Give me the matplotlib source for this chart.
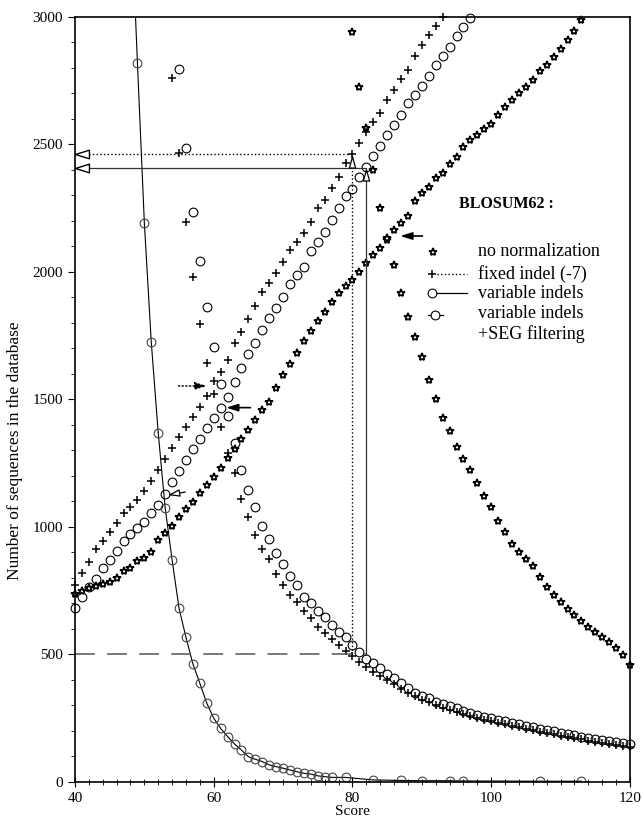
import numpy as np
import matplotlib
matplotlib.use('Agg')
import matplotlib.pyplot as plt

plt.rcParams['font.family'] = ['Liberation Serif', 'DejaVu Serif']

# no normalization (stars), rising and falling branch
star_up_x = np.arange(40, 114)
star_up = [736, 750, 759, 769, 776, 786, 799, 827, 838, 868,
           877, 903, 949, 975, 1005, 1040, 1070, 1099, 1132, 1165,
           1197, 1230, 1269, 1305, 1344, 1380, 1420, 1459, 1491, 1545,
           1595, 1640, 1684, 1731, 1770, 1809, 1844, 1884, 1916, 1945,
           1969, 2001, 2034, 2067, 2093, 2125, 2165, 2191, 2220, 2280,
           2311, 2332, 2367, 2387, 2424, 2452, 2491, 2518, 2537, 2559,
           2580, 2616, 2648, 2675, 2701, 2724, 2753, 2788, 2812, 2842,
           2873, 2910, 2946, 2988]
star_down_x = np.arange(80, 121)
star_down = [2942, 2727, 2563, 2400, 2250, 2135, 2027, 1919, 1822, 1744,
             1668, 1576, 1501, 1426, 1376, 1312, 1265, 1224, 1174, 1122,
             1077, 1025, 979, 933, 902, 875, 847, 805, 766, 735,
             705, 678, 655, 630, 609, 589, 570, 550, 524, 498,
             459]

# fixed indel (-7)
plus_up_x = np.arange(40, 94)
plus_up = [773, 821, 864, 912, 946, 982, 1017, 1054, 1080, 1106,
           1140, 1180, 1222, 1266, 1310, 1352, 1393, 1430, 1472, 1514,
           1573, 1609, 1655, 1720, 1766, 1815, 1867, 1923, 1958, 1997,
           2040, 2086, 2119, 2152, 2197, 2250, 2282, 2328, 2374, 2426,
           2463, 2505, 2547, 2589, 2622, 2675, 2714, 2755, 2792, 2847,
           2890, 2929, 2965, 3000]
plus_down_x = np.arange(54, 121)
plus_down = [2759, 2465, 2197, 1982, 1796, 1644,
             1520, 1393, 1290, 1210, 1108, 1038, 969, 912, 873, 816,
             773, 733, 707, 671, 642, 609, 585, 560, 537, 515,
             495, 470, 450, 432, 415, 398, 383, 366, 350, 336,
             323, 312, 302, 292, 283, 274, 266, 258, 251, 244,
             238, 232, 226, 220, 214, 208, 202, 197, 192, 187,
             182, 177, 172, 167, 162, 157, 153, 149, 145, 141,
             137]

# variable indels
circ_up_x = np.arange(40, 98)
circ_up = [681, 724, 763, 796, 838, 871, 907, 946, 971, 997,
           1021, 1056, 1086, 1130, 1175, 1220, 1262, 1305, 1345, 1387,
           1426, 1465, 1511, 1570, 1622, 1678, 1723, 1773, 1818, 1858,
           1903, 1953, 1988, 2018, 2084, 2119, 2158, 2205, 2250, 2298,
           2324, 2374, 2413, 2455, 2494, 2537, 2576, 2616, 2661, 2694,
           2729, 2769, 2812, 2847, 2884, 2925, 2962, 2995]
circ_down_x = np.arange(55, 121)
circ_down = [2797, 2487, 2237, 2044, 1864,
             1705, 1560, 1435, 1328, 1224, 1145, 1077, 1004, 951, 897,
             855, 808, 773, 727, 703, 672, 646, 616, 589, 567,
             537, 511, 481, 465, 446, 422, 407, 387, 367, 350,
             337, 328, 315, 306, 298, 289, 280, 272, 263, 256,
             250, 244, 238, 232, 226, 220, 214, 208, 203, 198,
             193, 188, 183, 178, 173, 168, 164, 160, 156, 152,
             148]

# variable indels + SEG filtering
seg_x = [48, 49, 50, 51, 52, 53, 54, 55, 56, 57, 58, 59, 60, 61, 62, 63, 64,
         65, 66, 67, 68, 69, 70, 71, 72, 73, 74, 75, 76, 77,
         79, 83, 87, 90, 94, 96, 107, 113]
seg_y = [3480, 2821, 2193, 1724, 1369, 1075, 871, 681, 567, 463, 387, 309, 250,
         210, 178, 149, 125, 99, 89, 80, 67, 60, 54, 47, 40, 34, 31, 24, 21, 18,
         18, 8, 6, 5, 5, 4, 3, 3]

# cut-off at 500 false positives and the matching score / true hits
cutoff = 500
x_fixed, hits_fixed = 80, 2461
x_var, hits_var = 82, 2409

fig = plt.figure(figsize=(6.43, 8.24), dpi=100)
ax = fig.add_axes([0.1166, 0.051, 0.8631, 0.9284])

star_kw = dict(ls='none', marker='*', ms=6, mfc='white', mec='black', mew=1.3, clip_on=False)
plus_kw = dict(ls='none', marker='+', ms=6, mec='black', mew=1.1, clip_on=False)
circ_kw = dict(ls='none', marker='o', ms=6.3, mfc='none', mec='black', mew=0.8, clip_on=False)

ax.plot(star_up_x, star_up, **star_kw)
ax.plot(star_down_x, star_down, **star_kw)
ax.plot(plus_up_x, plus_up, **plus_kw)
ax.plot(plus_down_x, plus_down, **plus_kw)
ax.plot(circ_up_x, circ_up, **circ_kw)
ax.plot(circ_down_x, circ_down, **circ_kw)
ax.plot(seg_x, seg_y, '-', color='black', lw=0.8)
ax.plot(seg_x, seg_y, ls='none', marker='o', ms=6.3, mfc='none', mec='#444444', mew=0.8)

# guide lines
ax.plot([40, x_var], [cutoff, cutoff], color='#555555', lw=1.1, dashes=(13, 8))
ax.plot([x_fixed, x_fixed, 40.8], [cutoff, hits_fixed, hits_fixed], color='black', ls=':', lw=1)
ax.plot([x_var, x_var, 40.8], [cutoff, hits_var, hits_var], color='#333333', ls='-', lw=0.9)
left_tri = [(-1.6, 0), (1.6, 1), (1.6, -1), (-1.6, 0)]
up_tri = [(0, 1.6), (-0.9, -1.6), (0.9, -1.6), (0, 1.6)]
for yy in (hits_fixed, hits_var):
    ax.plot(41.0, yy, marker=left_tri, ms=10, mfc='white', mec='black', mew=1, clip_on=False)
ax.plot(x_fixed, hits_fixed - 30, marker=up_tri, ms=8, mfc='white', mec='black', mew=0.9)
ax.plot(x_var, hits_var - 30, marker=up_tri, ms=8, mfc='white', mec='black', mew=0.9)

# arrows pointing at the crossing points
head = '-|>,head_length=0.7,head_width=0.22'
ax.annotate('', xy=(59.0, 1553), xytext=(54.9, 1553),
            arrowprops=dict(arrowstyle=head, color='black', lw=1, ls=':', shrinkA=0, shrinkB=0))
ax.annotate('', xy=(61.8, 1468), xytext=(65.3, 1468),
            arrowprops=dict(arrowstyle=head, color='black', lw=1.2, shrinkA=0, shrinkB=0))
ax.annotate('', xy=(86.9, 2141), xytext=(90.1, 2141),
            arrowprops=dict(arrowstyle=head, color='black', lw=1.2, shrinkA=0, shrinkB=0))
ax.annotate('', xy=(53.4, 1125), xytext=(55.9, 1137),
            arrowprops=dict(arrowstyle=head, fc='white', ec='black', lw=0.9, shrinkA=0, shrinkB=0))

ax.set_xlim(40, 120)
ax.set_ylim(0, 3000)
ax.set_xticks(np.arange(40, 121, 20))
ax.set_xticks(np.arange(40, 121, 2), minor=True)
ax.set_yticks(np.arange(0, 3001, 500))
ax.set_yticks(np.arange(0, 3001, 100), minor=True)
ax.tick_params(axis='x', which='both', direction='inout', top=False, labelsize=11)
ax.tick_params(axis='x', which='major', length=7)
ax.tick_params(axis='x', which='minor', length=4)
ax.tick_params(axis='y', which='both', direction='out', right=False, labelsize=11)
ax.tick_params(axis='y', which='major', length=5)
ax.tick_params(axis='y', which='minor', length=3)
for s in ax.spines.values():
    s.set_linewidth(1.2)

ax.set_xlabel('Score', fontsize=11, labelpad=0)
fig.text(0.024, 0.453, 'Number of sequences in the database', rotation=90,
         fontsize=12.5, ha='center', va='center')

# hand-made legend
tr = ax.transAxes
ax.text(0.692, 0.7556, 'BLOSUM62 :', transform=tr, fontsize=11.5, fontweight='bold', va='center')
rows = [0.6932, 0.664, 0.639, 0.6105]
labels = ['no normalization', 'fixed indel (-7)', 'variable indels', 'variable indels\n+SEG filtering']
for yy, lab in zip(rows, labels):
    ax.text(0.727, yy, lab, transform=tr, fontsize=13, va='top' if '\n' in lab else 'center',
            linespacing=1.25)
ax.texts[-1].set_y(rows[3] + 0.013)
ax.plot([0.6456], [rows[0]], transform=tr, **star_kw)
ax.plot([0.6427], [rows[1]], transform=tr, **plus_kw)
ax.plot([0.6517, 0.7058], [rows[1], rows[1]], transform=tr, color='black', ls=':', lw=1, clip_on=False)
ax.plot([0.6438], [rows[2]], transform=tr, **circ_kw)
ax.plot([0.6517, 0.7058], [rows[2], rows[2]], transform=tr, color='black', lw=0.9, clip_on=False)
ax.plot([0.636, 0.6625], [rows[3], rows[3]], transform=tr, color='black', lw=0.9, clip_on=False)
ax.plot([0.6486], [rows[3]], transform=tr, ls='none', marker='o', ms=6.3, mfc='white', mec='black', mew=0.8)

fig.savefig('out.png', dpi=100)
